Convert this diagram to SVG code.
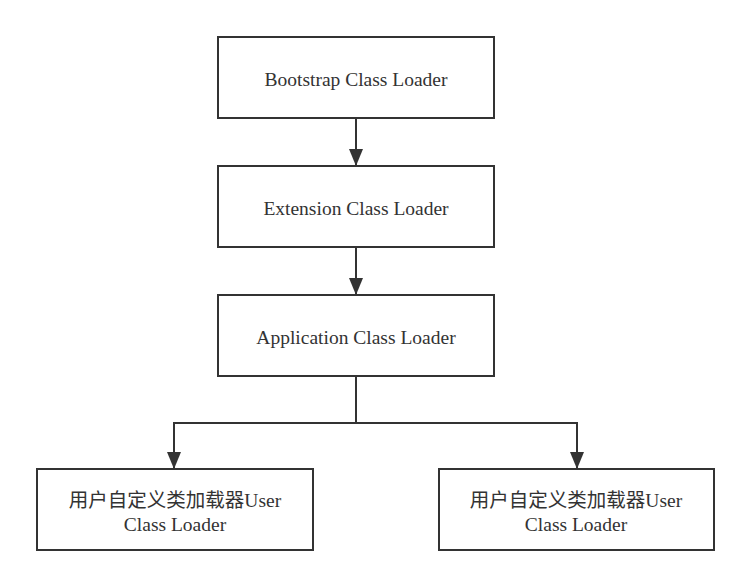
<svg xmlns="http://www.w3.org/2000/svg" width="751" height="588" viewBox="0 0 751 588">
<style>
.box{fill:#fff;stroke:#333;stroke-width:2}
.t{font-family:"Liberation Serif","Noto Sans CJK SC",serif;font-size:19.5px;fill:#333;text-anchor:middle}
.c{fill:none;stroke:#333;stroke-width:2}
</style>
<defs>
<marker id="ah" markerWidth="17" markerHeight="14" refX="17" refY="7" orient="auto" markerUnits="userSpaceOnUse" viewBox="0 0 17 14">
<path d="M0,0 L17,7 L0,14 Z" fill="#333"/>
</marker>
</defs>
<rect width="751" height="588" fill="#fff"/>
<g id="connectors">
<path class="c" d="M356,118 V166" marker-end="url(#ah)"/>
<path class="c" d="M356,247 V295" marker-end="url(#ah)"/>
<path class="c" d="M356,376 V423 H174 V469" marker-end="url(#ah)"/>
<path class="c" d="M356,423 H577 V469" marker-end="url(#ah)"/>
</g>
<g id="bootstrap">
<rect class="box" x="218" y="37" width="276" height="81"/>
<text class="t" x="356" y="86">Bootstrap Class Loader</text>
</g>
<g id="extension">
<rect class="box" x="218" y="166" width="276" height="81"/>
<text class="t" x="356" y="215">Extension Class Loader</text>
</g>
<g id="application">
<rect class="box" x="218" y="295" width="276" height="81"/>
<text class="t" x="356" y="344">Application Class Loader</text>
</g>
<g id="user1">
<rect class="box" x="37" y="469" width="276" height="81"/>
<text class="t" x="175" y="507">用户自定义类加载器User</text>
<text class="t" x="175" y="531">Class Loader</text>
</g>
<g id="user2">
<rect class="box" x="439" y="469" width="275" height="81"/>
<text class="t" x="576" y="507">用户自定义类加载器User</text>
<text class="t" x="576" y="531">Class Loader</text>
</g>
</svg>
